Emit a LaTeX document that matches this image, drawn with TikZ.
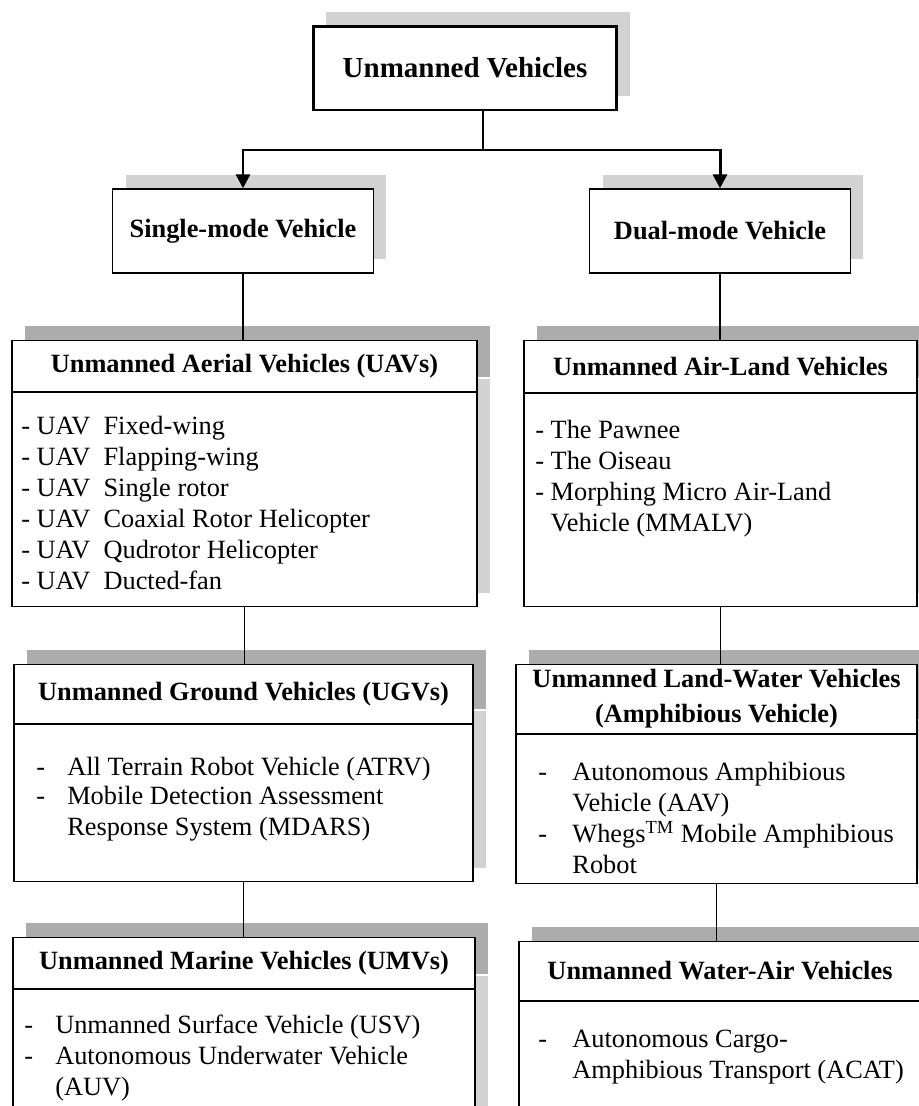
\documentclass[tikz,border=0pt]{standalone}
\usepackage{fontspec}
\setmainfont{Liberation Serif}
\usetikzlibrary{positioning,shadows,arrows.meta}

\newcommand{\listdash}[1]{\makebox[#1][l]{-}}

\begin{document}
\begin{tikzpicture}[x=0.02cm, y=-0.02cm,
    body box/.style={rectangle, draw, fill=white, line width=0.8pt, inner sep=0pt,
        general shadow={fill=gray!35, shadow xshift=0.26cm, shadow yshift=0.28cm}},
    head box/.style={rectangle, draw, fill=white, line width=0.8pt, inner sep=0pt,
        align=center, font=\fontsize{15}{20}\selectfont\bfseries,
        general shadow={fill=gray!65, shadow xshift=0.26cm, shadow yshift=0.28cm}},
    mode box/.style={body box, minimum width=5.22cm, minimum height=1.68cm,
        font=\fontsize{15}{18}\selectfont\bfseries},
    item list/.style={anchor=north west, inner sep=0pt, align=left,
        font=\fontsize{15}{17.6}\selectfont},
    link/.style={line width=0.75pt},
    branch/.style={line width=1.7pt}]

  \clip (0,0) rectangle (919,1106);

  % root and the two modes
  \node[body box, line width=1.7pt, minimum width=6.08cm, minimum height=1.68cm,
        font=\fontsize{16.5}{20}\selectfont\bfseries] (uv) at (465,68) {Unmanned Vehicles};

  \node[mode box] (single) at (243,231) {Single-mode Vehicle};
  \node[mode box] (dual) at (720,231) {Dual-mode Vehicle};

  % single-mode column
  \node[body box, minimum width=9.3cm, minimum height=4.28cm, anchor=north] (uav) at (244.5,392) {};
  \node[head box, minimum width=9.3cm, minimum height=1.02cm, above=0pt of uav] (uavhead)
      {Unmanned Aerial Vehicles (UAVs)};
  \node[item list] (uavlist) at (21,416)
      {- UAV\enspace Fixed-wing\\
       - UAV\enspace Flapping-wing\\
       - UAV\enspace Single rotor\\
       - UAV\enspace Coaxial Rotor Helicopter\\
       - UAV\enspace Qudrotor Helicopter\\
       - UAV\enspace Ducted-fan};

  \node[body box, minimum width=9.18cm, minimum height=3.14cm, anchor=north] (ugv) at (243.5,724) {};
  \node[head box, minimum width=9.18cm, minimum height=1.18cm, above=0pt of ugv] (ugvhead)
      {Unmanned Ground Vehicles (UGVs)};
  \node[item list] (ugvlist) at (36,757)
      {\listdash{17.6pt}All Terrain Robot Vehicle (ATRV)\\[-1pt]
       \listdash{17.6pt}Mobile Detection Assessment\\
       \hspace*{17.6pt}Response System (MDARS)};

  \node[body box, minimum width=9.24cm, minimum height=4.4cm, anchor=north] (umv) at (244,989) {};
  \node[head box, minimum width=9.24cm, minimum height=1.02cm, above=0pt of umv] (umvhead)
      {Unmanned Marine Vehicles (UMVs)};
  \node[item list] (umvlist) at (24,1015)
      {\listdash{17.6pt}Unmanned Surface Vehicle (USV)\\
       \listdash{17.6pt}Autonomous Underwater Vehicle\\
       \hspace*{17.6pt}(AUV)};

  % dual-mode column
  \node[body box, minimum width=7.86cm, minimum height=4.26cm, anchor=north] (alv) at (720.5,393) {};
  \node[head box, minimum width=7.86cm, minimum height=1.04cm, above=0pt of alv] (alvhead)
      {Unmanned Air-Land Vehicles};
  \node[item list] (alvlist) at (535,420)
      {- The Pawnee\\
       - The Oiseau\\
       - Morphing Micro Air-Land\\
       \phantom{- }Vehicle (MMALV)};

  \node[body box, minimum width=8.02cm, minimum height=2.98cm, anchor=north] (lwv) at (716.5,734) {};
  \node[head box, minimum width=8.02cm, minimum height=1.38cm, above=0pt of lwv] (lwvhead)
      {Unmanned Land-Water Vehicles\\(Amphibious Vehicle)};
  \node[item list] (lwvlist) at (538,762)
      {\listdash{19.4pt}Autonomous Amphibious\\
       \hspace*{19.4pt}Vehicle (AAV)\\
       \listdash{19.4pt}Whegs\textsuperscript{TM} Mobile Amphibious\\
       \hspace*{19.4pt}Robot};

  \node[body box, minimum width=8.04cm, minimum height=4.2cm, anchor=north] (wav) at (720,1001) {};
  \node[head box, minimum width=8.04cm, minimum height=1.18cm, above=0pt of wav] (wavhead)
      {Unmanned Water-Air Vehicles};
  \node[item list] (wavlist) at (538,1030)
      {\listdash{19.4pt}Autonomous Cargo-\\
       \hspace*{19.4pt}Amphibious Transport (ACAT)};

  % connectors
  \coordinate (split) at (483,150);
  \draw[branch] (split |- uv.south) -- (split);
  \draw[branch, -{Triangle[width=8pt,length=8pt]}] (split) -| (single.north);
  \draw[branch, -{Triangle[width=8pt,length=8pt]}] (split) -| (dual.north);

  \draw[link] (single.south) -- (single.south |- uavhead.north);
  \draw[link] (uav.south) -- (uav.south |- ugvhead.north);
  \draw[link] (ugv.south) -- (ugv.south |- umvhead.north);

  \draw[link] (dual.south) -- (dual.south |- alvhead.north);
  \draw[link] (alv.south) -- (alv.south |- lwvhead.north);
  \draw[link] (lwv.south) -- (lwv.south |- wavhead.north);

\end{tikzpicture}
\end{document}
